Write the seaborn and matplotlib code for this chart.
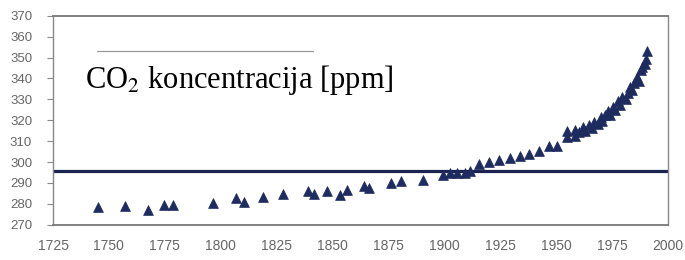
import numpy as np
import pandas as pd
import seaborn as sns
import matplotlib.pyplot as plt

# ice core + Mauna Loa values
years = [1745, 1757, 1767.5, 1774.5, 1778.5, 1796.5, 1807, 1810.5, 1819, 1828,
         1839, 1841.5, 1847.5, 1853.5, 1856.5, 1864, 1866.5, 1876, 1880.5, 1890.5,
         1899.5, 1902.5, 1905.5, 1909, 1911.5, 1915.5, 1920, 1924.5, 1929.5, 1934,
         1938, 1942.5, 1947, 1950.5, 1955, 1955, 1958.5, 1958.5,
         1960, 1962, 1963, 1964.5, 1966, 1967, 1968.5, 1970, 1970.5, 1972, 1973,
         1974, 1975.5, 1976.5, 1977.5, 1978.5, 1979.5, 1981, 1982, 1983, 1984,
         1985, 1986, 1987, 1988, 1988.5, 1989.5, 1990, 1990.5]
ppm = [278.3, 279.1, 276.9, 279.4, 279.3, 280.5, 282.8, 280.9, 283.2, 284.5,
       286.3, 284.9, 286.2, 284.3, 286.6, 288.5, 287.5, 289.8, 290.7, 291.5,
       293.8, 294.7, 294.7, 294.7, 295.6, 298.9, 299.8, 301.2, 302.1, 303.1,
       303.9, 305.3, 307.6, 307.6, 312.0, 315.0, 312.5, 315.5,
       314.5, 316.8, 315.0, 317.7, 316.5, 319.0, 318.0, 321.5, 319.5, 322.5, 324.5,
       322.5, 326.5, 325.0, 329.0, 327.5, 331.3, 330.0, 333.0, 336.0, 334.5,
       338.0, 340.8, 339.0, 344.0, 345.5, 347.0, 349.3, 353.1]

ref_level = 295.5

x_ticks = list(range(1725, 2001, 25))
y_ticks = list(range(270, 371, 10))

df = pd.DataFrame({'Godina': years, 'CO2': ppm})

sns.set_style('white')
plt.rcParams['mathtext.fontset'] = 'stix'
fig = plt.figure(figsize=(6.85, 2.6), dpi=100)
ax = fig.add_axes([0.0774, 0.136, 0.8978, 0.803])

ax.axhline(ref_level, color='#1c2350', lw=2.3, zorder=1)
sns.scatterplot(data=df, x='Godina', y='CO2', marker='^', s=50,
                color='#1d2b5e', edgecolor='#1d2b5e', linewidth=0.5, ax=ax, zorder=2)

ax.set_xlim(1725, 2000)
ax.set_ylim(270, 370)
ax.set_xticks(x_ticks)
ax.set_yticks(y_ticks)
ax.set_xlabel('')
ax.set_ylabel('')
for s in ax.spines.values():
    s.set_color('#888888')
    s.set_linewidth(1.0)
ax.spines['top'].set_color('#777777')
ax.spines['top'].set_linewidth(1.3)
ax.spines['bottom'].set_color('#777777')
ax.spines['bottom'].set_linewidth(1.3)
ax.tick_params(axis='y', left=True, length=4, color='#888888', labelsize=9.5,
               labelcolor='#666666', pad=11)
ax.tick_params(axis='x', bottom=False, labelsize=10, labelcolor='#666666', pad=7)
for lab in ax.get_xticklabels() + ax.get_yticklabels():
    lab.set_family('Liberation Sans')

ax.text(0.052, 0.655, r'CO$_\mathrm{2}$ koncentracija [ppm]', transform=ax.transAxes,
        fontsize=22, family='Liberation Serif', color='black')
ax.plot([0.072, 0.423], [0.83, 0.83], transform=ax.transAxes, color='#999999', lw=0.9)

fig.savefig('out.png', dpi=100)
